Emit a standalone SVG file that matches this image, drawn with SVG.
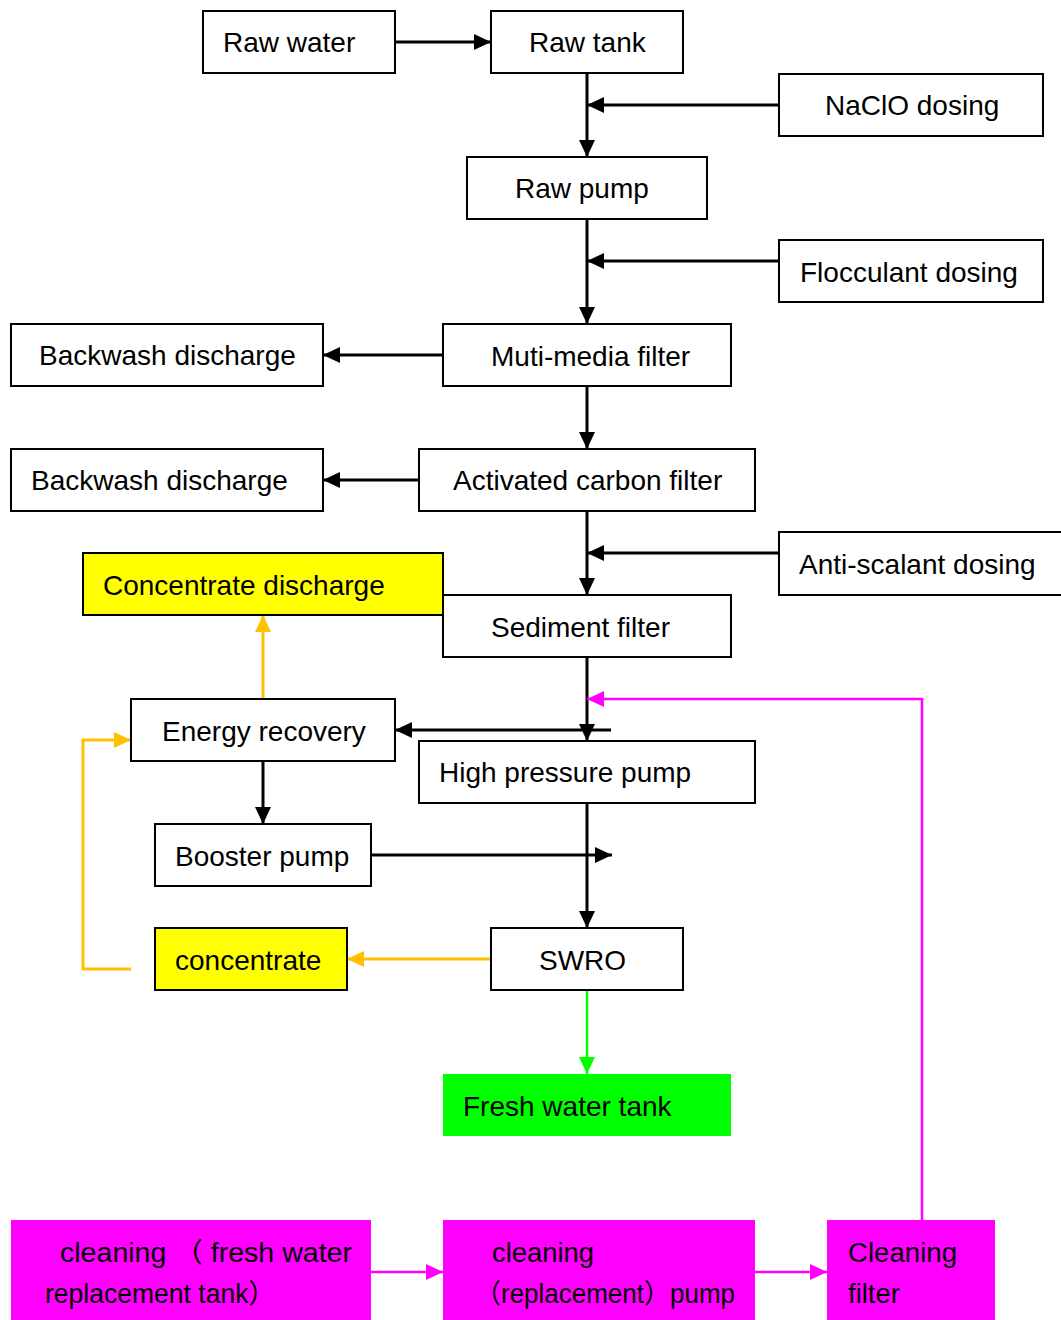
<svg xmlns="http://www.w3.org/2000/svg" width="1061" height="1320" viewBox="0 0 1061 1320">
<style>
.b{fill:#fff;stroke:#000;stroke-width:2}
.y{fill:#ffff00;stroke:#000;stroke-width:2}
.g{fill:#00ff00;stroke:none}
.m{fill:#ff00ff;stroke:none}
text{font-family:"Liberation Sans",Arial,sans-serif;font-size:28px;fill:#000}
.c{font-family:"Liberation Sans Narrow","Liberation Sans","Noto Sans CJK SC",sans-serif;font-size:27px}
.k{fill:none;stroke:#000;stroke-width:3}
.o{fill:none;stroke:#ffc000;stroke-width:3}
.gr{fill:none;stroke:#00ff00;stroke-width:2.5}
.p{fill:none;stroke:#ff00ff;stroke-width:2.5}
</style>
<defs>
<marker id="ak" markerUnits="userSpaceOnUse" markerWidth="18" markerHeight="16" refX="17" refY="8" orient="auto"><path d="M0,0 L17,8 L0,16 Z" fill="#000"/></marker>
<marker id="ao" markerUnits="userSpaceOnUse" markerWidth="18" markerHeight="16" refX="17" refY="8" orient="auto"><path d="M0,0 L17,8 L0,16 Z" fill="#ffc000"/></marker>
<marker id="ag" markerUnits="userSpaceOnUse" markerWidth="18" markerHeight="16" refX="17" refY="8" orient="auto"><path d="M0,0 L17,8 L0,16 Z" fill="#00ff00"/></marker>
<marker id="ap" markerUnits="userSpaceOnUse" markerWidth="18" markerHeight="16" refX="17" refY="8" orient="auto"><path d="M0,0 L17,8 L0,16 Z" fill="#ff00ff"/></marker>
</defs>
<g id="connectors">
<path class="k" d="M395,42 H491" marker-end="url(#ak)"/>
<path class="k" d="M587,73 V157" marker-end="url(#ak)"/>
<path class="k" d="M779,105 H587" marker-end="url(#ak)"/>
<path class="k" d="M587,219 V324" marker-end="url(#ak)"/>
<path class="k" d="M779,261 H587" marker-end="url(#ak)"/>
<path class="k" d="M443,355 H323" marker-end="url(#ak)"/>
<path class="k" d="M587,386 V449" marker-end="url(#ak)"/>
<path class="k" d="M419,480 H323" marker-end="url(#ak)"/>
<path class="k" d="M587,511 V595" marker-end="url(#ak)"/>
<path class="k" d="M779,553 H587" marker-end="url(#ak)"/>
<path class="k" d="M587,657 V741" marker-end="url(#ak)"/>
<path class="k" d="M611,730 H395" marker-end="url(#ak)"/>
<path class="k" d="M263,761 V824" marker-end="url(#ak)"/>
<path class="k" d="M371,855 H612" marker-end="url(#ak)"/>
<path class="k" d="M587,803 V928" marker-end="url(#ak)"/>
<path class="o" d="M491,959 H347" marker-end="url(#ao)"/>
<path class="o" d="M131,969 H83 V740 H131" marker-end="url(#ao)"/>
<path class="o" d="M263,699 V615" marker-end="url(#ao)"/>
<path class="gr" d="M587,990 V1074" marker-end="url(#ag)"/>
<path class="p" d="M922,1220 V699 H587" marker-end="url(#ap)"/>
<path class="p" d="M371,1272 H443" marker-end="url(#ap)"/>
<path class="p" d="M755,1272 H827" marker-end="url(#ap)"/>
</g>
<g id="raw-water"><rect class="b" x="203" y="11" width="192" height="62"/><text x="223" y="52">Raw water</text></g>
<g id="raw-tank"><rect class="b" x="491" y="11" width="192" height="62"/><text x="529" y="52">Raw tank</text></g>
<g id="naclo-dosing"><rect class="b" x="779" y="74" width="264" height="62"/><text x="825" y="115">NaClO dosing</text></g>
<g id="raw-pump"><rect class="b" x="467" y="157" width="240" height="62"/><text x="515" y="198">Raw pump</text></g>
<g id="flocculant-dosing"><rect class="b" x="779" y="240" width="264" height="62"/><text x="800" y="282">Flocculant dosing</text></g>
<g id="backwash-1"><rect class="b" x="11" y="324" width="312" height="62"/><text x="39" y="365">Backwash discharge</text></g>
<g id="multi-media-filter"><rect class="b" x="443" y="324" width="288" height="62"/><text x="491" y="366">Muti-media filter</text></g>
<g id="backwash-2"><rect class="b" x="11" y="449" width="312" height="62"/><text x="31" y="490">Backwash discharge</text></g>
<g id="activated-carbon-filter"><rect class="b" x="419" y="449" width="336" height="62"/><text x="453" y="490">Activated carbon filter</text></g>
<g id="anti-scalant-dosing"><rect class="b" x="779" y="532" width="284" height="63"/><text x="799" y="574">Anti-scalant dosing</text></g>
<g id="concentrate-discharge"><rect class="y" x="83" y="553" width="360" height="62"/><text x="103" y="595">Concentrate discharge</text></g>
<g id="sediment-filter"><rect class="b" x="443" y="595" width="288" height="62"/><text x="491" y="637">Sediment filter</text></g>
<g id="energy-recovery"><rect class="b" x="131" y="699" width="264" height="62"/><text x="162" y="741">Energy recovery</text></g>
<g id="high-pressure-pump"><rect class="b" x="419" y="741" width="336" height="62"/><text x="439" y="782">High pressure pump</text></g>
<g id="booster-pump"><rect class="b" x="155" y="824" width="216" height="62"/><text x="175" y="866">Booster pump</text></g>
<g id="concentrate"><rect class="y" x="155" y="928" width="192" height="62"/><text x="175" y="970">concentrate</text></g>
<g id="swro"><rect class="b" x="491" y="928" width="192" height="62"/><text x="539" y="970">SWRO</text></g>
<g id="fresh-water-tank"><rect class="g" x="443" y="1074" width="288" height="62"/><text x="463" y="1116">Fresh water tank</text></g>
<g id="cleaning-tank"><rect class="m" x="11" y="1220" width="360" height="100"/><text class="c" x="60" y="1262" textLength="292" lengthAdjust="spacingAndGlyphs">cleaning （ fresh  water</text><text class="c" x="45" y="1303" textLength="230" lengthAdjust="spacingAndGlyphs">replacement tank）</text></g>
<g id="cleaning-pump"><rect class="m" x="443" y="1220" width="312" height="100"/><text class="c" x="492" y="1262" textLength="102" lengthAdjust="spacingAndGlyphs">cleaning</text><text class="c" x="475" y="1303" textLength="260" lengthAdjust="spacingAndGlyphs">（replacement）pump</text></g>
<g id="cleaning-filter"><rect class="m" x="827" y="1220" width="168" height="100"/><text class="c" x="848" y="1262" textLength="109" lengthAdjust="spacingAndGlyphs">Cleaning</text><text class="c" x="848" y="1303" textLength="52" lengthAdjust="spacingAndGlyphs">filter</text></g>
</svg>
